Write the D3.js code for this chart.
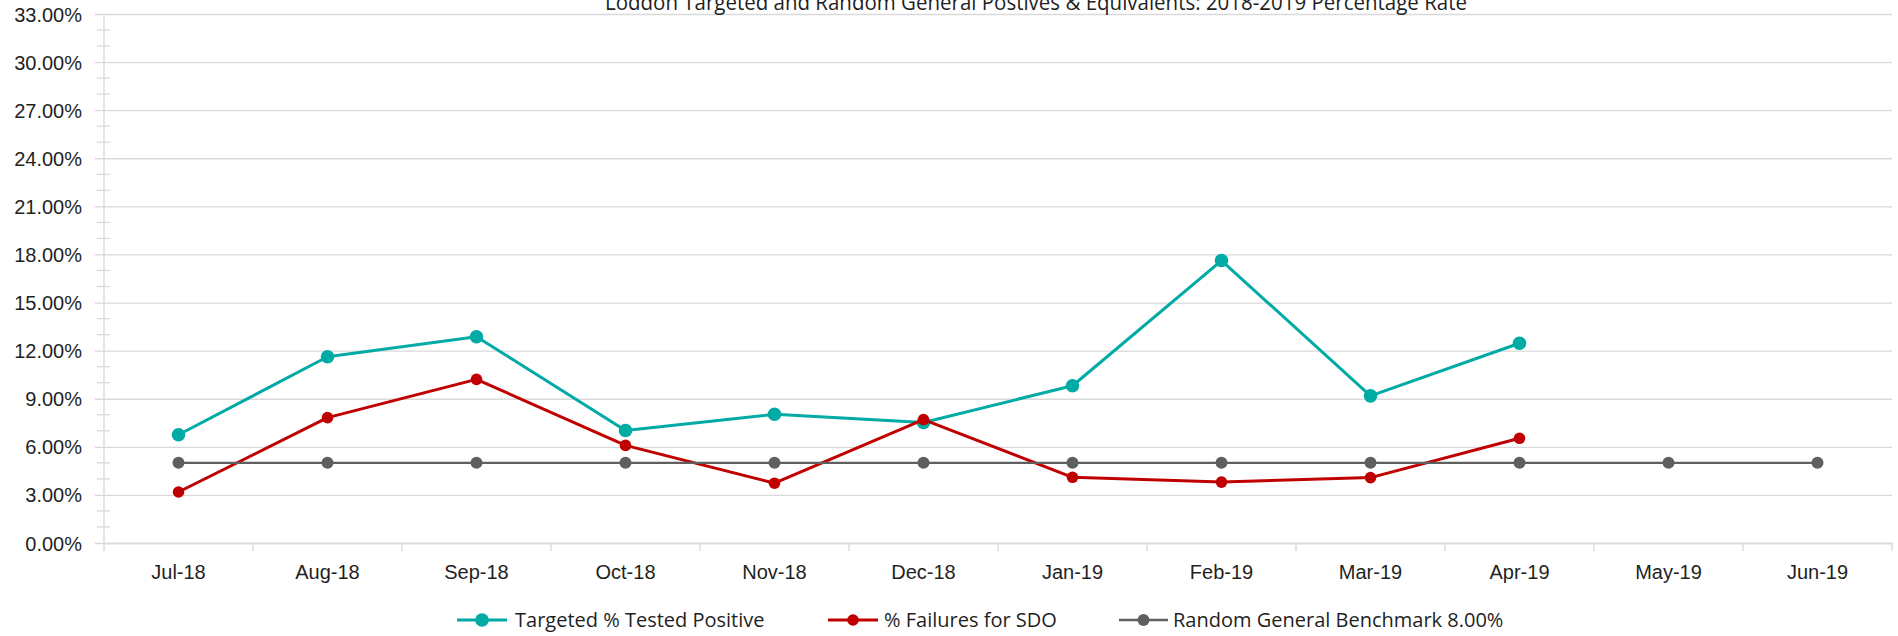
<!DOCTYPE html>
<html>
<head>
<meta charset="utf-8">
<script src="https://cdn.jsdelivr.net/npm/d3@7/dist/d3.min.js"></script>
<style>
  html, body { margin: 0; padding: 0; background: #ffffff; }
  svg { display: block; font-family: "Open Sans", "Noto Sans", sans-serif; }
</style>
</head>
<body>
<svg id="chart" width="1898" height="636"></svg>
<script>
const title = "Loddon Targeted and Random General Postives & Equivalents: 2018-2019 Percentage Rate";
const categories = ["Jul-18","Aug-18","Sep-18","Oct-18","Nov-18","Dec-18","Jan-19","Feb-19","Mar-19","Apr-19","May-19","Jun-19"];
const targeted = [6.75, 11.62, 12.87, 7.02, 8.03, 7.52, 9.81, 17.62, 9.18, 12.46];
const failures = [3.18, 7.82, 10.21, 6.09, 3.73, 7.70, 4.10, 3.80, 4.08, 6.53];
const benchmark = [5.0, 5.0, 5.0, 5.0, 5.0, 5.0, 5.0, 5.0, 5.0, 5.0, 5.0, 5.0];
const yTicks = [0, 3, 6, 9, 12, 15, 18, 21, 24, 27, 30, 33];
const seriesNames = ["Targeted % Tested Positive", "% Failures for SDO", "Random General Benchmark 8.00%"];

(function () {
const svg = d3.select("#chart");
const pLeft = 104, pRight = 1892, pTop = 14, pBottom = 543;
const x = d3.scaleBand().domain(categories).range([pLeft, pRight]).padding(0);
const y = d3.scaleLinear().domain([0, 33]).range([pBottom, pTop]);
const gridColor = "#d9d9d9";
const textColor = "#1f1f1f";

// Gridlines + y labels
const yAxis = d3.axisLeft(y).tickValues(yTicks).tickSize(-(pRight - pLeft)).tickPadding(13)
  .tickFormat(d => d.toFixed(2) + "%");
const gy = svg.append("g").attr("transform", `translate(${pLeft},0)`).call(yAxis);
gy.select(".domain").remove();
gy.selectAll(".tick line").attr("stroke", gridColor).attr("stroke-width", 1.3).attr("x1", -9);
gy.selectAll(".tick text").attr("fill", textColor).attr("font-size", 20).attr("dy", "0.35em").attr("x", -22);

// Minor ticks
const minor = d3.range(0, 33).filter(v => v % 3 !== 0);
svg.append("g").selectAll("line").data(minor).join("line")
  .attr("x1", pLeft - 7).attr("x2", pLeft + 6)
  .attr("y1", d => y(d)).attr("y2", d => y(d))
  .attr("stroke", gridColor).attr("stroke-width", 1.3);

// Left axis line
svg.append("line").attr("x1", pLeft).attr("x2", pLeft).attr("y1", pTop).attr("y2", pBottom + 8)
  .attr("stroke", gridColor).attr("stroke-width", 1.3);

// X axis
const xAxis = d3.axisBottom(x).tickSize(0).tickPadding(22);
const gx = svg.append("g").attr("transform", `translate(0,${pBottom})`).call(xAxis);
gx.select(".domain").attr("stroke", gridColor).attr("stroke-width", 1.3);
gx.selectAll(".tick text").attr("fill", textColor).attr("font-size", 20);
// category boundary ticks
const bounds = categories.map(c => x(c) + x.bandwidth());
svg.append("g").selectAll("line").data(bounds).join("line")
  .attr("x1", d => d).attr("x2", d => d)
  .attr("y1", pBottom).attr("y2", pBottom + 8)
  .attr("stroke", gridColor).attr("stroke-width", 1.3);

// Title
svg.append("text").attr("x", 605).attr("y", 10)
  .attr("textLength", 862).attr("lengthAdjust", "spacingAndGlyphs")
  .attr("font-size", 21).attr("fill", textColor).text(title);

// Series
const cx = d => x(d) + x.bandwidth() / 2;
const series = [
  { name: seriesNames[0], values: targeted, color: "#00aaa5", width: 3, r: 6.8 },
  { name: seriesNames[1], values: failures, color: "#c00000", width: 3, r: 5.8 },
  { name: seriesNames[2], values: benchmark, color: "#5f5f5f", width: 2.4, r: 6 }
];
const line = d3.line().x(d => cx(d.c)).y(d => y(d.v));
series.forEach(s => {
  const pts = s.values.map((v, i) => ({ c: categories[i], v }));
  const g = svg.append("g");
  g.append("path").datum(pts).attr("d", line).attr("fill", "none")
    .attr("stroke", s.color).attr("stroke-width", s.width).attr("stroke-linejoin", "round");
  g.selectAll("circle").data(pts).join("circle")
    .attr("cx", d => cx(d.c)).attr("cy", d => y(d.v)).attr("r", s.r).attr("fill", s.color);
});

// Legend
const legendPos = [
  { x1: 457, x2: 507, tx: 515 },
  { x1: 828, x2: 878, tx: 884 },
  { x1: 1119, x2: 1168, tx: 1173 }
];
const ly = 620;
series.forEach((s, i) => {
  const p = legendPos[i];
  const g = svg.append("g");
  g.append("line").attr("x1", p.x1).attr("x2", p.x2).attr("y1", ly).attr("y2", ly)
    .attr("stroke", s.color).attr("stroke-width", s.width);
  g.append("circle").attr("cx", (p.x1 + p.x2) / 2).attr("cy", ly).attr("r", s.r).attr("fill", s.color);
  g.append("text").attr("x", p.tx).attr("y", ly).attr("dy", "0.35em")
    .attr("font-size", 20).attr("fill", textColor).text(s.name);
});
})();
</script>
</body>
</html>
